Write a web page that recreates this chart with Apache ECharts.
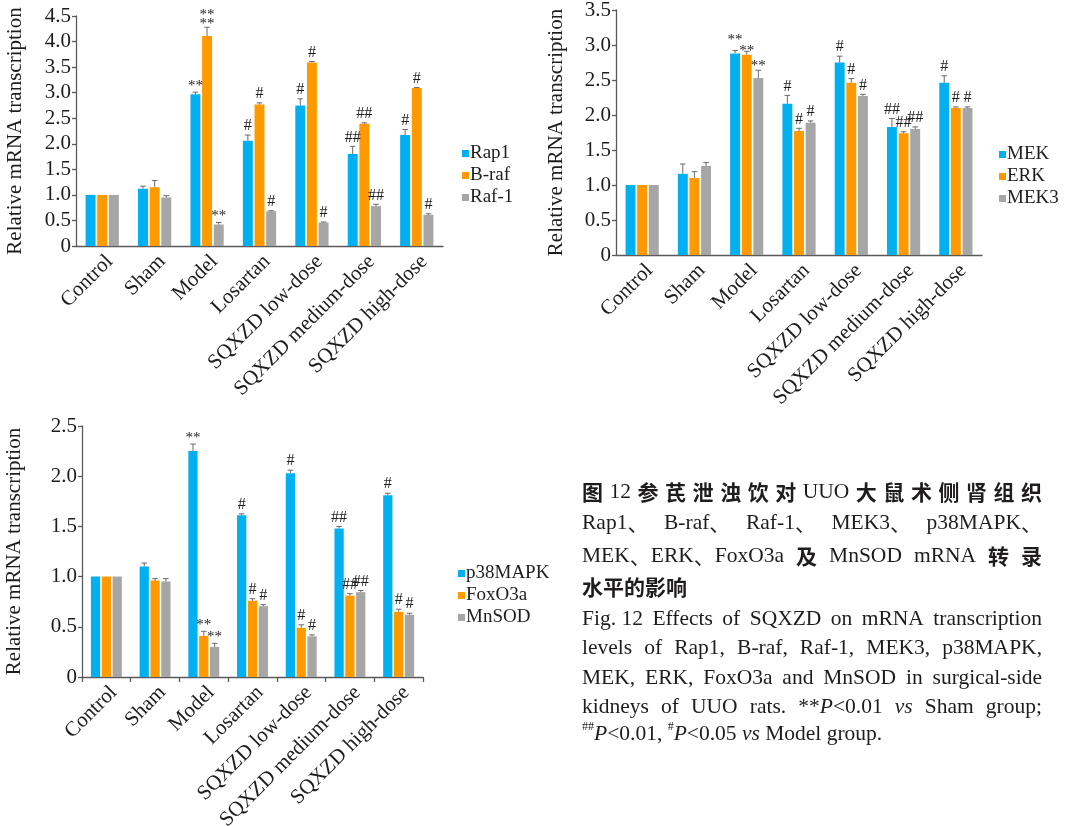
<!DOCTYPE html>
<html><head><meta charset="utf-8">
<script src="https://cdn.jsdelivr.net/npm/echarts@6/dist/echarts.min.js"></script>
<style>html,body{margin:0;padding:0;background:#fff}#c{width:1071px;height:826px}</style>
</head><body><div id="c"></div>
<script>
// ---------- DATA ----------
const categories = ['Control', 'Sham', 'Model', 'Losartan', 'SQXZD low-dose', 'SQXZD medium-dose', 'SQXZD high-dose'];
const yTicks1 = [0, 0.5, 1.0, 1.5, 2.0, 2.5, 3.0, 3.5, 4.0, 4.5];
const yTicks2 = [0, 0.5, 1.0, 1.5, 2.0, 2.5, 3.0, 3.5];
const yTicks3 = [0, 0.5, 1.0, 1.5, 2.0, 2.5];

// Panel 1
const rap1    = [1.00, 1.12, 2.97, 2.06, 2.75, 1.80, 2.17];
const rap1Err = [0, 0.05, 0.04, 0.11, 0.13, 0.15, 0.11];
const rap1Sig = ['', '', '**', '#', '#', '##', '#'];
const braf    = [1.00, 1.15, 4.11, 2.77, 3.59, 2.39, 3.09];
const brafErr = [0, 0.13, 0.17, 0.03, 0.02, 0.02, 0.01];
const brafSig = ['', '', '**\n**', '#', '#', '##', '#'];
const raf1    = [1.00, 0.95, 0.42, 0.68, 0.46, 0.78, 0.61];
const raf1Err = [0, 0.035, 0.04, 0.01, 0.01, 0.035, 0.02];
const raf1Sig = ['', '', '**', '#', '#', '##', '#'];

// Panel 2
const mek     = [1.00, 1.16, 2.88, 2.16, 2.75, 1.83, 2.46];
const mekErr  = [0, 0.14, 0.04, 0.12, 0.09, 0.12, 0.10];
const mekSig  = ['', '', '**', '#', '#', '##', '#'];
const erk     = [1.00, 1.10, 2.86, 1.77, 2.46, 1.74, 2.10];
const erkErr  = [0, 0.09, 0.05, 0.04, 0.06, 0.02, 0.015];
const erkSig  = ['', '', '**', '#', '#', '##', '#'];
const mek3    = [1.00, 1.27, 2.53, 1.89, 2.27, 1.80, 2.10];
const mek3Err = [0, 0.05, 0.11, 0.025, 0.025, 0.03, 0.015];
const mek3Sig = ['', '', '**', '#', '#', '##', '#'];

// Panel 3
const p38       = [1.00, 1.10, 2.25, 1.61, 2.03, 1.48, 1.81];
const p38Err    = [0, 0.035, 0.07, 0.015, 0.03, 0.02, 0.02];
const p38Sig    = ['', '', '**', '#', '#', '##', '#'];
const foxo3a    = [1.00, 0.96, 0.41, 0.76, 0.49, 0.81, 0.65];
const foxo3aErr = [0, 0.02, 0.045, 0.02, 0.03, 0.02, 0.025];
const foxo3aSig = ['', '', '**', '#', '#', '##', '#'];
const mnsod     = [1.00, 0.95, 0.30, 0.705, 0.405, 0.845, 0.62];
const mnsodErr  = [0, 0.03, 0.035, 0.015, 0.015, 0.017, 0.015];
const mnsodSig  = ['', '', '**', '#', '#', '##', '#'];

const yTitle = 'Relative mRNA transcription';

// ---------- STYLE / LAYOUT ----------
const SERIF = '"Liberation Serif", "Times New Roman", serif';
const TXT = '#1f1c1d';
const AX = '#5a5a5a';
const ERRC = '#6a6a6a';
const COLORS = ['#00B0F0', '#FF9900', '#A6A6A6'];
const BW = 0.19, GAP = 0.17;

const panels = [
  { grid: {left: 76, top: 16, width: 367, height: 230}, ticks: yTicks1, nameGap: 50, xTick: false,
    legendPos: {left: 462, top: 144}, nudge: {},
    names: ['Rap1', 'B-raf', 'Raf-1'], vals: [rap1, braf, raf1], errs: [rap1Err, brafErr, raf1Err], sigs: [rap1Sig, brafSig, raf1Sig] },
  { grid: {left: 616, top: 10, width: 366, height: 245}, ticks: yTicks2, nameGap: 49, xTick: false,
    legendPos: {left: 999, top: 145}, nudge: {'0-2': -4, '1-2': 6, '2-2': 2},
    names: ['MEK', 'ERK', 'MEK3'], vals: [mek, erk, mek3], errs: [mekErr, erkErr, mek3Err], sigs: [mekSig, erkSig, mek3Sig] },
  { grid: {left: 82, top: 426, width: 341, height: 251}, ticks: yTicks3, nameGap: 57, xTick: true,
    legendPos: {left: 458, top: 564}, nudge: {},
    names: ['p38MAPK', 'FoxO3a', 'MnSOD'], vals: [p38, foxo3a, mnsod], errs: [p38Err, foxo3aErr, mnsodErr], sigs: [p38Sig, foxo3aSig, mnsodSig] }
];

const grids = [], xAxes = [], yAxes = [], legends = [], series = [];
panels.forEach((p, pi) => {
  grids.push(Object.assign({outerBoundsMode: 'none', containLabel: false}, p.grid));
  const tk = p.ticks;
  xAxes.push({
    type: 'category', gridIndex: pi, data: categories,
    axisLine: {lineStyle: {color: AX, width: 1.3}},
    axisTick: {show: p.xTick, length: 5, lineStyle: {color: AX, width: 1.3}},
    axisLabel: {rotate: 45, interval: 0, margin: 5, fontFamily: SERIF, fontSize: 21, color: TXT, verticalAlign: 'top', align: 'right'},
    splitLine: {show: false}
  });
  yAxes.push({
    type: 'value', gridIndex: pi, min: tk[0], max: tk[tk.length - 1], interval: tk[1] - tk[0],
    name: yTitle, nameLocation: 'middle', nameGap: p.nameGap,
    nameTextStyle: {fontFamily: SERIF, fontSize: 21, color: TXT},
    axisLine: {show: true, lineStyle: {color: AX, width: 1.3}},
    axisTick: {show: true, length: 4, lineStyle: {color: AX, width: 1.3}},
    axisLabel: {margin: 5, fontFamily: SERIF, fontSize: 21, color: TXT,
      formatter: v => (v === 0 ? '0' : v.toFixed(1))},
    splitLine: {show: false}
  });
  legends.push(Object.assign({
    orient: 'vertical', icon: 'rect', itemWidth: 7, itemHeight: 7, itemGap: 3, padding: 0,
    selectedMode: false, data: p.names,
    textStyle: {fontFamily: SERIF, fontSize: 19, color: TXT, lineHeight: 19, padding: [0, 0, 0, -4]}
  }, p.legendPos));

  p.names.forEach((nm, k) => {
    series.push({
      name: nm, type: 'bar', xAxisIndex: pi, yAxisIndex: pi,
      data: p.vals[k], barWidth: (BW * 100) + '%', barGap: (GAP * 100) + '%',
      itemStyle: {color: COLORS[k]}, silent: true, animation: false
    });
  });
  p.names.forEach((nm, k) => {
    const sigs = p.sigs[k];
    series.push({
      name: 'err-' + nm, type: 'custom', xAxisIndex: pi, yAxisIndex: pi,
      data: p.vals[k].map((v, i) => [i, v, p.errs[k][i]]),
      encode: {x: 0, y: 1}, silent: true, animation: false, clip: false, z: 5,
      renderItem: function (params, api) {
        const i = api.value(0), v = api.value(1), e = api.value(2);
        const band = api.size([1, 0])[0];
        const bw = band * BW, gap = bw * GAP;
        const c0 = api.coord([i, v]);
        const x = c0[0] + (k - 1) * (bw + gap);
        const yb = c0[1];
        const yt = api.coord([i, v + e])[1];
        const ch = [];
        if (e > 0) {
          ch.push({type: 'line', shape: {x1: x, y1: yb, x2: x, y2: yt}, style: {stroke: ERRC, lineWidth: 1}});
          ch.push({type: 'line', shape: {x1: x - 2.8, y1: yt, x2: x + 2.8, y2: yt}, style: {stroke: ERRC, lineWidth: 1}});
        }
        const s = sigs[params.dataIndex];
        if (s) {
          const star = s.indexOf('*') >= 0;
          const st = {text: s, font: (star ? '15px ' : '16px ') + SERIF, fill: TXT, align: 'center', verticalAlign: 'bottom'};
          if (s.indexOf('\n') >= 0) st.lineHeight = 9;
          const dy = p.nudge[k + '-' + params.dataIndex] || 0;
          ch.push({type: 'text', x: x, y: yt - 1 + dy + (star ? 2 : 0), style: st});
        }
        return {type: 'group', children: ch};
      }
    });
  });
});

// ---------- CAPTION ----------
const F = {
  cjk: 'bold 21px "Noto Sans CJK SC"',
  cjkr: '21px "Noto Sans CJK SC"',
  lat: '21.5px "Liberation Serif"',
  it: 'italic 21.5px "Liberation Serif"',
  sup: '12px "Liberation Serif"'
};
const CAP_L = 582, CAP_R = 1042;
const mctx = document.createElement('canvas').getContext('2d');
function tw(t, k) { mctx.font = F[k]; return mctx.measureText(t).width; }
const L = t => [[t, 'lat']];
const C = t => [[t, 'cjk']];
const captionLines = [
  {y: 492, j: true, toks: [C('图'), L('12'), C('参'), C('芪'), C('泄'), C('浊'), C('饮'), C('对'), L('UUO'), C('大'), C('鼠'), C('术'), C('侧'), C('肾'), C('组'), C('织')]},
  {y: 523, j: true, toks: [[['Rap1', 'lat'], ['、', 'cjkr']], [['B-raf', 'lat'], ['、', 'cjkr']], [['Raf-1', 'lat'], ['、', 'cjkr']], [['MEK3', 'lat'], ['、', 'cjkr']], [['p38MAPK', 'lat'], ['、', 'cjkr']]]},
  {y: 556, j: true, toks: [[['MEK', 'lat'], ['、', 'cjkr'], ['ERK', 'lat'], ['、', 'cjkr'], ['FoxO3a', 'lat']], C('及'), L('MnSOD'), L('mRNA'), C('转'), C('录')]},
  {y: 587, j: false, toks: [C('水平的影响')]},
  {y: 619, j: true, toks: [L('Fig. 12'), L('Effects'), L('of'), L('SQXZD'), L('on'), L('mRNA'), L('transcription')]},
  {y: 648, j: true, toks: [L('levels'), L('of'), L('Rap1,'), L('B-raf,'), L('Raf-1,'), L('MEK3,'), L('p38MAPK,')]},
  {y: 678, j: true, toks: [L('MEK,'), L('ERK,'), L('FoxO3a'), L('and'), L('MnSOD'), L('in'), L('surgical-side')]},
  {y: 707, j: true, toks: [L('kidneys'), L('of'), L('UUO'), L('rats.'), [['**', 'lat'], ['P', 'it'], ['<0.01', 'lat']], [['vs', 'it']], L('Sham'), L('group;')]},
  {y: 734, j: false, toks: [[['##', 'sup'], ['P', 'it'], ['<0.01, ', 'lat'], ['#', 'sup'], ['P', 'it'], ['<0.05 ', 'lat'], ['vs', 'it'], [' Model group.', 'lat']]]}
];
const graphics = [];
captionLines.forEach(line => {
  const widths = line.toks.map(tok => tok.reduce((s, seg) => s + tw(seg[0], seg[1]), 0));
  const total = widths.reduce((a, b) => a + b, 0);
  const gap = (line.j && line.toks.length > 1) ? (CAP_R - CAP_L - total) / (line.toks.length - 1) : 0;
  let x = CAP_L;
  line.toks.forEach(tok => {
    tok.forEach(seg => {
      graphics.push({type: 'text', x: x, y: line.y + (seg[1] === 'sup' ? -7 : 0), silent: true,
        style: {text: seg[0], font: F[seg[1]], fill: TXT, verticalAlign: 'middle', align: 'left'}});
      x += tw(seg[0], seg[1]);
    });
    x += gap;
  });
});

const chart = echarts.init(document.getElementById('c'), null, {renderer: 'canvas'});
chart.setOption({
  animation: false,
  backgroundColor: '#fff',
  grid: grids, xAxis: xAxes, yAxis: yAxes, legend: legends, series: series,
  graphic: graphics
});
</script>
</body></html>
